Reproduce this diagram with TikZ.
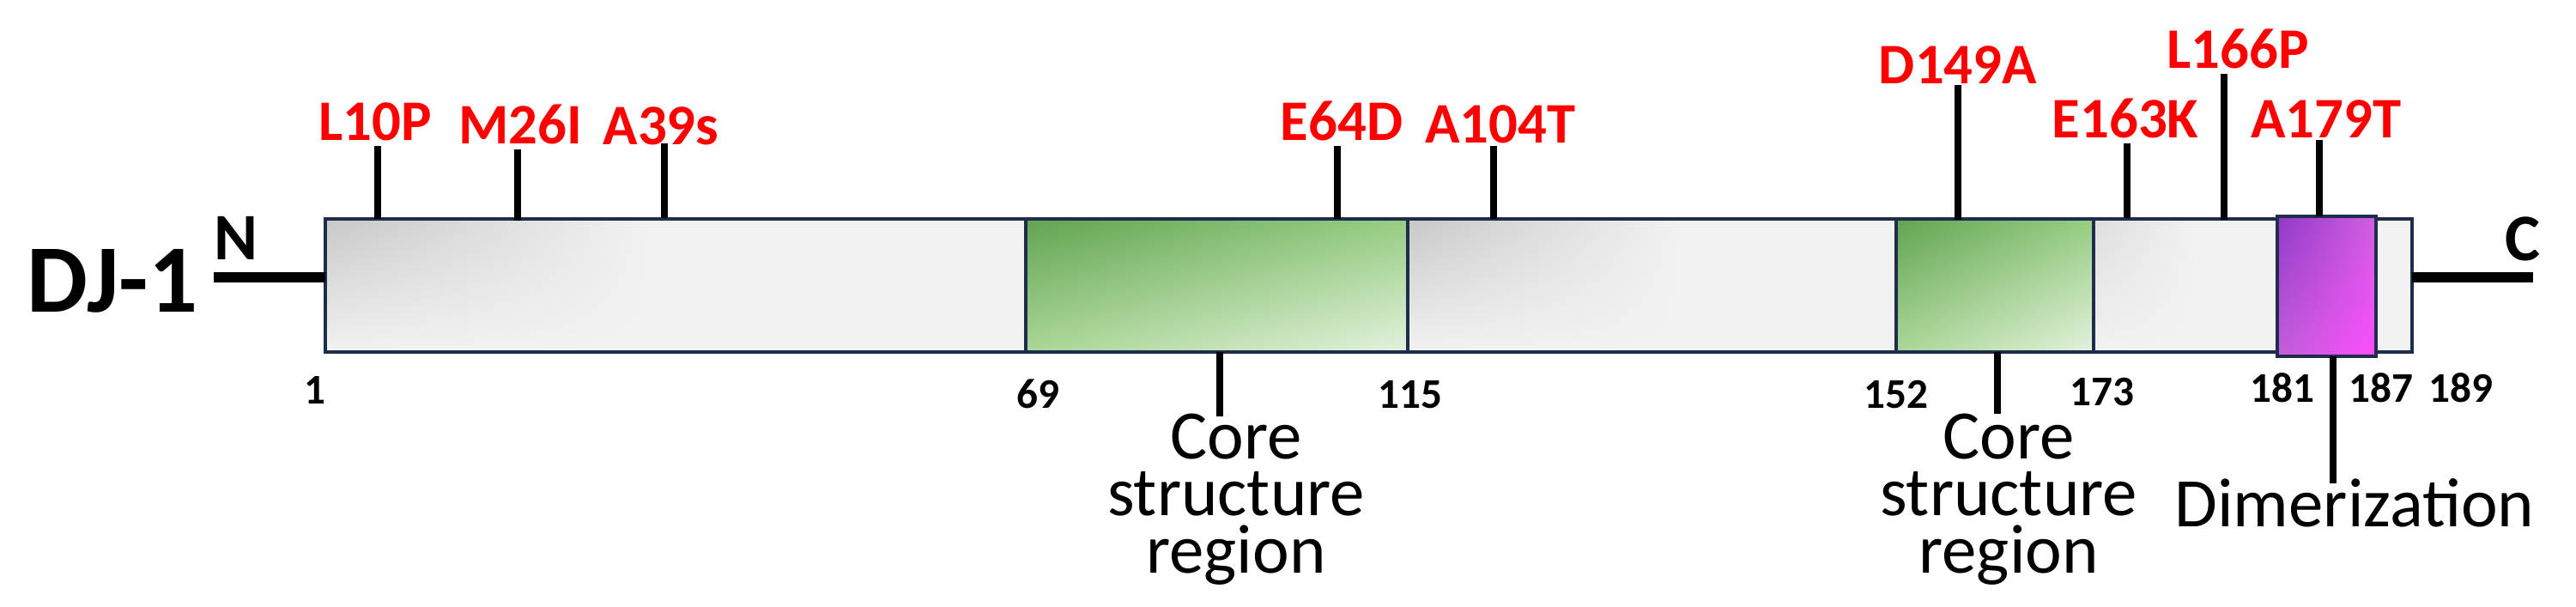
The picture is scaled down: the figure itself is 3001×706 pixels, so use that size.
\documentclass[tikz,border=0pt]{standalone}
\usepackage{fontspec}
\setmainfont{Carlito}
\usetikzlibrary{shadings}

\definecolor{barfill}{RGB}{242,242,242}
\definecolor{bargray}{RGB}{200,200,200}
\definecolor{barlight}{RGB}{222,222,222}
\definecolor{navy}{RGB}{31,45,77}
\definecolor{greenA}{RGB}{98,164,82}
\definecolor{greenB}{RGB}{150,205,130}
\definecolor{greenC}{RGB}{170,215,150}
\definecolor{greenD}{RGB}{228,242,222}
\definecolor{purpA}{RGB}{146,56,200}
\definecolor{purpB}{RGB}{208,96,224}
\definecolor{purpC}{RGB}{192,96,216}
\definecolor{purpD}{RGB}{255,76,255}

\tikzset{
  mut/.style={text=red, font=\bfseries\fontsize{19}{19}\selectfont, anchor=base, inner sep=0pt},
  num/.style={font=\bfseries\fontsize{14}{14}\selectfont, anchor=base, inner sep=0pt},
  region/.style={font=\fontsize{23}{18.8}\selectfont, align=center, anchor=base, inner sep=0pt},
  siteline/.style={line width=2.2pt},
  termline/.style={line width=3.6pt},
  domainbox/.style={draw=navy, line width=1.2pt},
  grayshade/.style={upper left=#1, upper right=barfill, lower left=barfill, lower right=barfill},
  greenshade/.style={upper left=greenA, upper right=greenB, lower left=greenC, lower right=greenD},
  purpshade/.style={upper left=purpA, upper right=purpB, lower left=purpC, lower right=purpD}
}

\begin{document}
\begin{tikzpicture}[x=0.01cm, y=-0.01cm]
\useasboundingbox (0,0) rectangle (3001,706);

% Protein bar
\fill[barfill] (379,255) rectangle (2810,410);
\shade[grayshade=bargray] (379,255) rectangle (760,410);
\shade[grayshade=bargray] (1640,255) rectangle (1960,410);
\shade[grayshade=barlight] (2439,255) rectangle (2560,410);
\draw[domainbox] (379,255) rectangle (2810,410);

% Core structure regions
\shade[greenshade] (1195,255) rectangle (1640,410);
\draw[domainbox] (1195,255) rectangle (1640,410);
\shade[greenshade] (2209,255) rectangle (2439,410);
\draw[domainbox] (2209,255) rectangle (2439,410);

% Dimerization region
\shade[purpshade] (2653,252) rectangle (2768,415);
\draw[domainbox] (2653,252) rectangle (2768,415);

% Termini
\coordinate (nstart) at (249,323);
\coordinate (nend) at (379,323);
\coordinate (cstart) at (2810,323);
\coordinate (cend) at (2951,323);
\draw[termline] (nstart) -- (nend);
\draw[termline] (cstart) -- (cend);
\node[anchor=base, inner sep=0pt, font=\bfseries\fontsize{32}{32}\selectfont] (name) at (131,363) {DJ-1};
\node[anchor=base, inner sep=0pt, font=\bfseries\fontsize{22}{22}\selectfont] (nterm) at (275,302) {N};
\node[anchor=base, inner sep=0pt, font=\bfseries\fontsize{22}{22}\selectfont] (cterm) at (2939,303) {C};

% Mutations
\foreach \lab/\lx/\ly/\tx/\ty/\tb [count=\i] in {L10P/437/163/440/170/255, M26I/606/167/603/174/257,
    A39s/770/168/774/167/254, E64D/1563/163/1558/170/255, A104T/1748/166/1740/170/255,
    D149A/2281/97/2281/99/256, E163K/2476/160/2478/167/254, L166P/2607/79/2591/86/256,
    A179T/2710/160/2702/163/252}{
    \node[mut] (mut\i) at (\lx,\ly) {\lab};
    \coordinate (mtop\i) at (\tx,\ty);
    \coordinate (mbase\i) at (\tx,\tb);
    \draw[siteline] (mbase\i) -- (mtop\i);
}

% Residue numbers
\foreach \n/\nx/\ny in {1/367/470, 69/1209/475, 115/1643/475, 152/2209/475,
    173/2449/472, 181/2659/468, 187/2774/468, 189/2867/468}{
    \node[num] (res\n) at (\nx,\ny) {\n};
}

% Region labels
\node[region] (core1) at (1440,667) {Core\\structure\\region};
\node[region] (core2) at (2340,667) {Core\\structure\\region};
\node[region] (dimer) at (2743,613) {Dimerization};

\coordinate (c1a) at (1421,410);
\coordinate (c1b) at (1421,485);
\coordinate (c2a) at (2327,410);
\coordinate (c2b) at (2327,482);
\coordinate (da) at (2718,415);
\coordinate (db) at (2718,563);
\draw[siteline] (c1a) -- (c1b);
\draw[siteline] (c2a) -- (c2b);
\draw[siteline] (da) -- (db);

\end{tikzpicture}
\end{document}
